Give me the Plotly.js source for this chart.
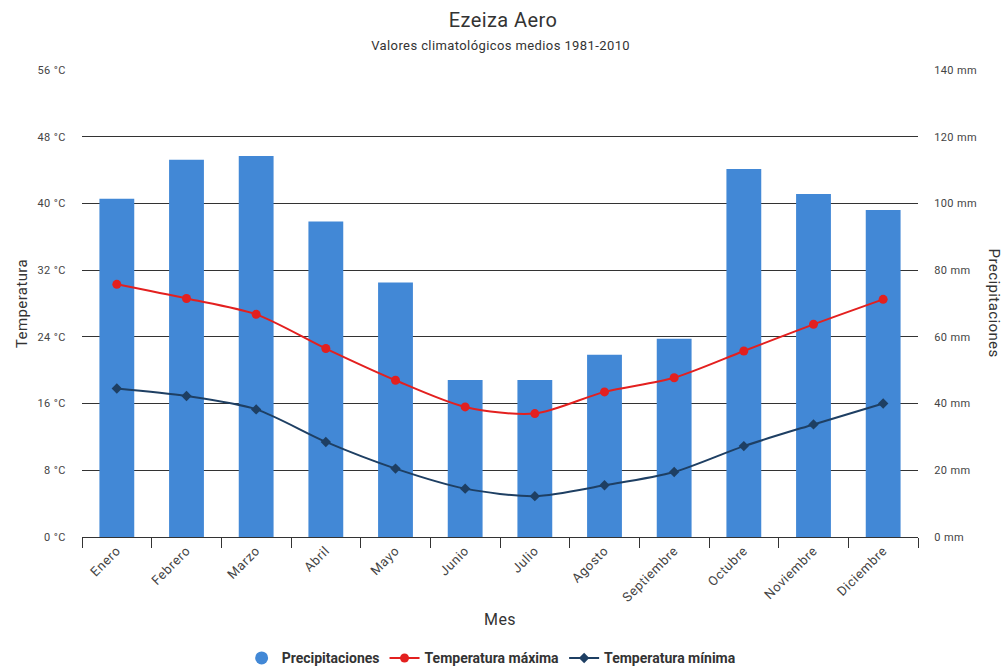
<!DOCTYPE html>
<html>
<head>
<meta charset="utf-8">
<script src="https://cdn.plot.ly/plotly-3.0.1.min.js"></script>
<style>
html,body{margin:0;padding:0;background:#fff;}
#chart{width:1006px;height:668px;}
#chart svg text{letter-spacing:0.4px;}
#chart .xtick text{letter-spacing:0.6px;}
#chart svg text.legendtext{letter-spacing:0;}
</style>
</head>
<body>
<div id="chart"></div>
<script>
const months = ["Enero","Febrero","Marzo","Abril","Mayo","Junio","Julio","Agosto","Septiembre","Octubre","Noviembre","Diciembre"];
const precipitaciones = [101.4, 113.1, 114.2, 94.6, 76.3, 47.1, 47.1, 54.6, 59.4, 110.3, 102.8, 98.0];
const tempMax = [30.3, 28.6, 26.7, 22.6, 18.8, 15.6, 14.8, 17.4, 19.1, 22.3, 25.5, 28.5];
const tempMin = [17.8, 16.9, 15.3, 11.4, 8.2, 5.8, 4.9, 6.2, 7.8, 10.9, 13.5, 16.0];

const FONT = "Roboto, 'Noto Sans', sans-serif";
const barColor = "#4288d6";
const redColor = "#e3201f";
const navyColor = "#1e3f63";

const traces = [
  {
    type: "bar", name: "Precipitaciones", x: months, y: precipitaciones,
    yaxis: "y", marker: {color: barColor}, showlegend: false
  },
  {
    type: "scatter", mode: "markers", name: "Precipitaciones", x: [months[0]], y: [null],
    yaxis: "y", marker: {color: barColor, symbol: "circle", size: 13}, showlegend: true
  },
  {
    type: "scatter", mode: "lines+markers", name: "Temperatura máxima", x: months, y: tempMax,
    yaxis: "y2",
    line: {color: redColor, width: 2, shape: "spline", smoothing: 0.8},
    marker: {color: redColor, symbol: "circle", size: 9}
  },
  {
    type: "scatter", mode: "lines+markers", name: "Temperatura mínima", x: months, y: tempMin,
    yaxis: "y2",
    line: {color: navyColor, width: 2, shape: "spline", smoothing: 0.8},
    marker: {color: navyColor, symbol: "diamond", size: 8}
  }
];

const layout = {
  width: 1006, height: 668,
  paper_bgcolor: "#fff", plot_bgcolor: "#fff",
  font: {family: FONT, color: "#333", size: 11},
  margin: {l: 82, r: 88, t: 70, b: 131, autoexpand: false},
  bargap: 0.5,
  title: {text: "Ezeiza Aero", x: 0.5, xanchor: "center", y: 0.97, yanchor: "middle",
          font: {family: FONT, size: 20, color: "#333"}},
  xaxis: {
    type: "category", range: [-0.5, 11.5], autorange: false, automargin: false,
    tickangle: -45, tickson: "boundaries",
    ticks: "outside", ticklen: 10, tickcolor: "#333", tickwidth: 1,
    showline: true, linecolor: "#333", linewidth: 1, showgrid: false,
    tickfont: {size: 13, color: "#444"},
    title: {text: "Mes", font: {size: 16, color: "#333"}, standoff: 14}
  },
  yaxis: {
    side: "right", range: [0, 140], dtick: 20, tick0: 0, ticksuffix: " mm",
    autorange: false, automargin: false,
    showgrid: true, gridcolor: "#333", gridwidth: 1, zeroline: false, showline: false,
    ticks: "outside", ticklen: 13, tickcolor: "rgba(0,0,0,0)",
    tickfont: {size: 11, color: "#444"}
  },
  yaxis2: {
    overlaying: "y", side: "left", range: [0, 56], dtick: 8, tick0: 0, ticksuffix: " °C",
    autorange: false, automargin: false,
    showgrid: false, zeroline: false, showline: false,
    ticks: "outside", ticklen: 13, tickcolor: "rgba(0,0,0,0)",
    tickfont: {size: 11, color: "#444"},
    title: {text: "Temperatura", font: {size: 15, color: "#333"}, standoff: 8}
  },
  legend: {
    orientation: "h", x: 0.49, xanchor: "center", y: -0.2256, yanchor: "top",
    font: {size: 14, color: "#333", weight: "bold"}, itemwidth: 30, tracegroupgap: 0
  },
  annotations: [
    {text: "Valores climatológicos medios 1981-2010", xref: "paper", yref: "paper",
     x: 0.5, y: 1.052, xanchor: "center", yanchor: "middle", showarrow: false,
     font: {size: 13, color: "#333"}},
    {text: "Precipitaciones", xref: "paper", yref: "paper", x: 1.092, y: 0.5,
     xanchor: "center", yanchor: "middle", textangle: 90, showarrow: false,
     font: {size: 15, color: "#333"}}
  ]
};

Plotly.newPlot("chart", traces, layout, {displayModeBar: false, staticPlot: true});
</script>
</body>
</html>
